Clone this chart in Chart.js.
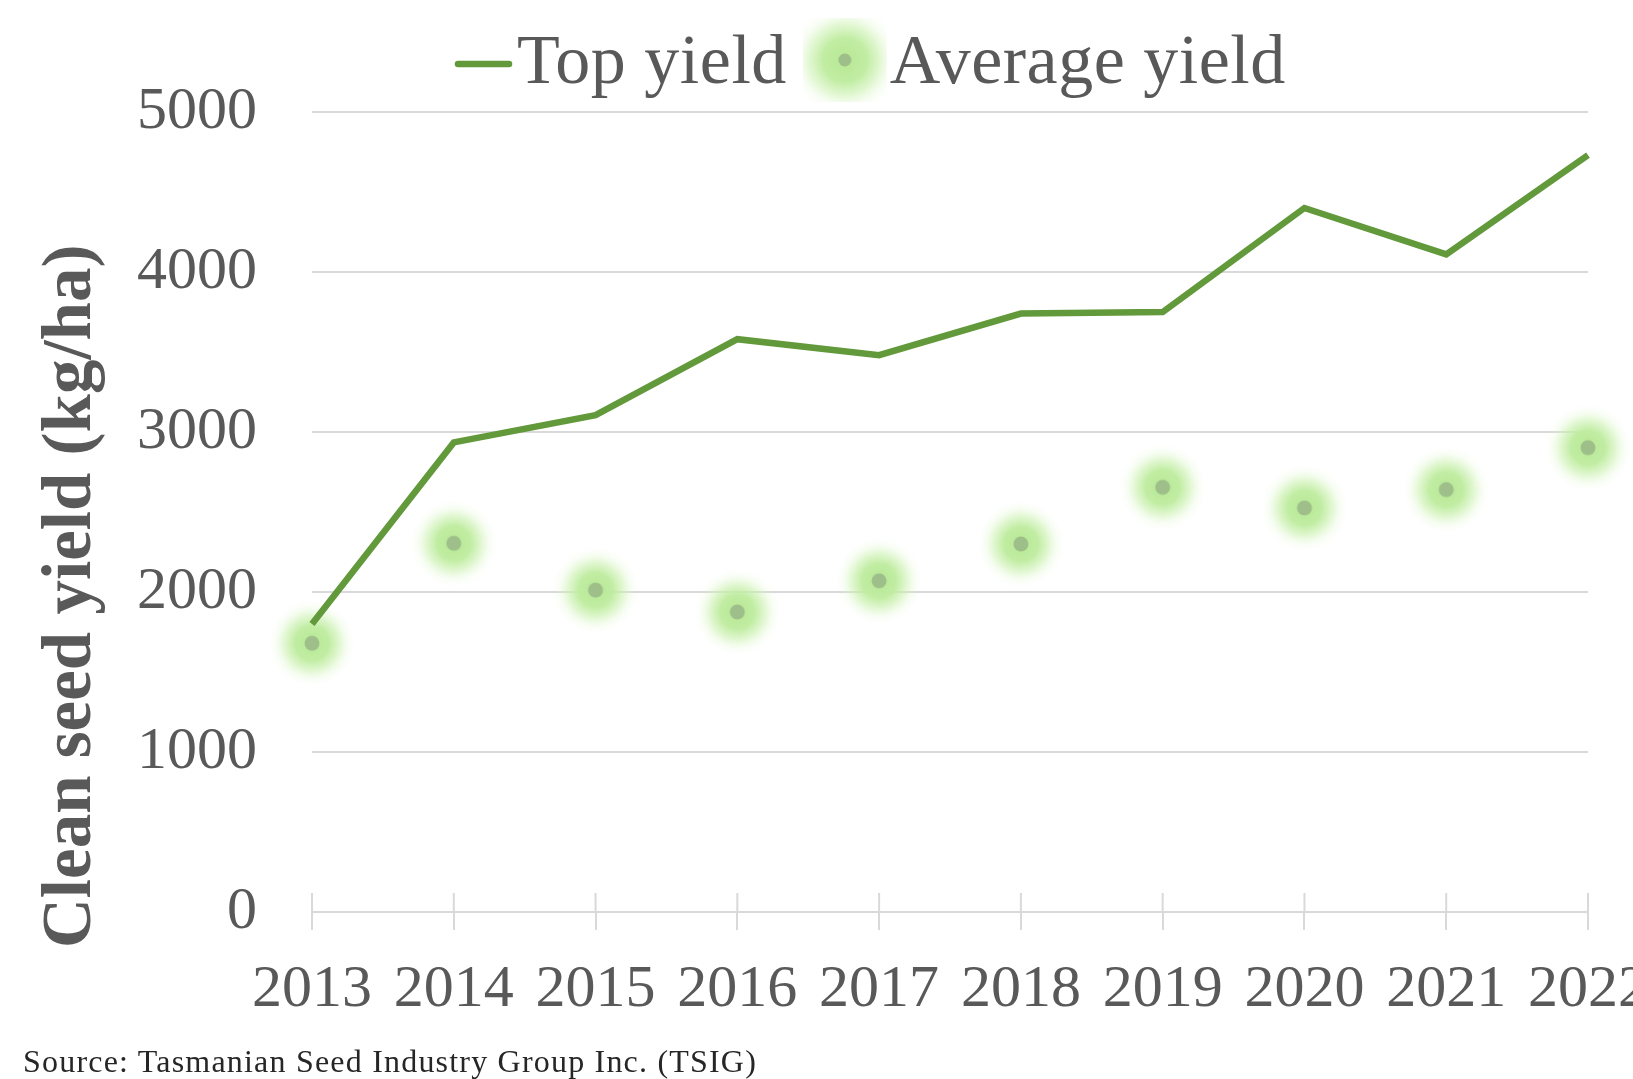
<!DOCTYPE html>
<html>
<head>
<meta charset="utf-8">
<title>Clean seed yield</title>
<script src="https://cdn.jsdelivr.net/npm/chart.js@4.4.1/dist/chart.umd.min.js"></script>
<style>
  html, body { margin: 0; padding: 0; background: #fff; overflow: hidden; }
  #wrap { position: relative; width: 1672px; height: 1079px; }
  #source {
    position: absolute; left: 23px; top: 1045px;
    font: 32px/32px 'Liberation Serif', serif; letter-spacing: 1.2px;
    color: #262626; white-space: nowrap;
  }
</style>
</head>
<body>
<div id="wrap">
  <canvas id="yieldChart"></canvas>
  <div id="source">Source: Tasmanian Seed Industry Group Inc. (TSIG)</div>
</div>
<script>
// chart data
const years = ['2013', '2014', '2015', '2016', '2017', '2018', '2019', '2020', '2021', '2022'];
const topYield = [1800, 2935, 3105, 3580, 3480, 3740, 3750, 4400, 4110, 4730];
const averageYield = [1680, 2305, 2012, 1875, 2070, 2300, 2655, 2525, 2640, 2902];
const yTicks = [0, 1000, 2000, 3000, 4000, 5000];

const lineGreen = '#62993b';
const textGrey = '#595959';
const gridGrey = '#d9d9d9';
const serif = "'Liberation Serif', serif";

// soft green halo with a grey-green dot in the middle
function makeGlowDot(size, dotRadius) {
  const c = document.createElement('canvas');
  c.width = size;
  c.height = size;
  const g = c.getContext('2d');
  const r = size / 2;
  const grad = g.createRadialGradient(r, r, 0, r, r, r);
  grad.addColorStop(0, 'rgba(182,232,148,1)');
  grad.addColorStop(0.4, 'rgba(190,236,158,0.95)');
  grad.addColorStop(0.62, 'rgba(200,240,172,0.6)');
  grad.addColorStop(0.82, 'rgba(215,245,192,0.2)');
  grad.addColorStop(1, 'rgba(230,250,215,0)');
  g.fillStyle = grad;
  g.fillRect(0, 0, size, size);
  g.beginPath();
  g.arc(r, r, dotRadius, 0, Math.PI * 2);
  g.fillStyle = '#9ebf89';
  g.fill();
  return c;
}
const glowDot = makeGlowDot(86, 7.5);
const legendGlow = makeGlowDot(110, 6.5);

// tick marks crossing the axis line
const crossTicks = {
  id: 'crossTicks',
  beforeDatasetsDraw(chart) {
    const ctx = chart.ctx;
    const x = chart.scales.x;
    const bottom = chart.chartArea.bottom;
    ctx.save();
    ctx.strokeStyle = gridGrey;
    ctx.lineWidth = 2;
    x.ticks.forEach(function(t, i) {
      const px = x.getPixelForTick(i);
      ctx.beginPath();
      ctx.moveTo(px, bottom - 19);
      ctx.lineTo(px, bottom);
      ctx.stroke();
    });
    ctx.restore();
  }
};

// y axis title, anchored at the bottom like the original
const yTitle = {
  id: 'yTitle',
  afterDraw(chart) {
    const ctx = chart.ctx;
    ctx.save();
    ctx.translate(90, 948);
    ctx.rotate(-Math.PI / 2);
    ctx.font = 'bold 69px ' + serif;
    ctx.fillStyle = textGrey;
    ctx.textAlign = 'left';
    ctx.textBaseline = 'alphabetic';
    ctx.fillText('Clean seed yield (kg/ha)', 0, 0);
    ctx.restore();
  }
};

// legend drawn by hand so the gaps match the original
const topLegend = {
  id: 'topLegend',
  afterDraw(chart) {
    const ctx = chart.ctx;
    const ds = chart.data.datasets;
    const baseline = 83;
    let x = 455;
    ctx.save();
    ctx.font = '70px ' + serif;
    ctx.letterSpacing = '0.5px';
    ctx.fillStyle = textGrey;
    ctx.textBaseline = 'alphabetic';

    ctx.strokeStyle = lineGreen;
    ctx.lineWidth = 6.5;
    ctx.lineCap = 'round';
    ctx.beginPath();
    ctx.moveTo(x + 3, 64);
    ctx.lineTo(x + 54, 64);
    ctx.stroke();
    x += 62;
    ctx.fillText(ds[0].label, x, baseline);
    x += ctx.measureText(ds[0].label).width;

    // glow marker, clipped to a square like the original
    const cx = x + 58;
    const cy = 60;
    ctx.save();
    ctx.beginPath();
    ctx.rect(cx - 42, cy - 42, 84, 84);
    ctx.clip();
    ctx.drawImage(legendGlow, cx - legendGlow.width / 2, cy - legendGlow.height / 2);
    ctx.restore();

    x += 103;
    ctx.fillText(ds[1].label, x, baseline);
    ctx.restore();
  }
};

const ctx = document.getElementById('yieldChart').getContext('2d');
const yieldChart = new Chart(ctx, {
  type: 'line',
  data: {
    labels: years,
    datasets: [{
      label: 'Top yield',
      data: topYield,
      borderColor: lineGreen,
      backgroundColor: lineGreen,
      borderWidth: 6.5,
      pointRadius: 0,
      tension: 0
    }, {
      label: 'Average yield',
      data: averageYield,
      showLine: false,
      pointStyle: glowDot,
      pointRadius: 43
    }]
  },
  options: {
    responsive: true,
    maintainAspectRatio: false,
    animation: false,
    layout: { padding: { top: 112, right: 0, bottom: 29, left: 82 } },
    plugins: {
      legend: { display: false },
      tooltip: { enabled: false }
    },
    scales: {
      x: {
        offset: false,
        border: { display: false },
        grid: { drawOnChartArea: false, color: gridGrey, lineWidth: 2, tickLength: 18 },
        ticks: { color: textGrey, font: { family: serif, size: 60 }, padding: 24, maxRotation: 0, autoSkip: false }
      },
      y: {
        min: 0,
        max: 5000,
        afterBuildTicks: function(axis) {
          axis.ticks = yTicks.map(function(v) { return { value: v }; });
        },
        border: { display: false },
        grid: { color: gridGrey, lineWidth: 2, drawTicks: false },
        ticks: {
          color: textGrey,
          font: { family: serif, size: 60 },
          padding: 55,
          callback: function(v) { return String(v); }
        }
      }
    }
  },
  plugins: [crossTicks, yTitle, topLegend]
});
</script>
</body>
</html>
